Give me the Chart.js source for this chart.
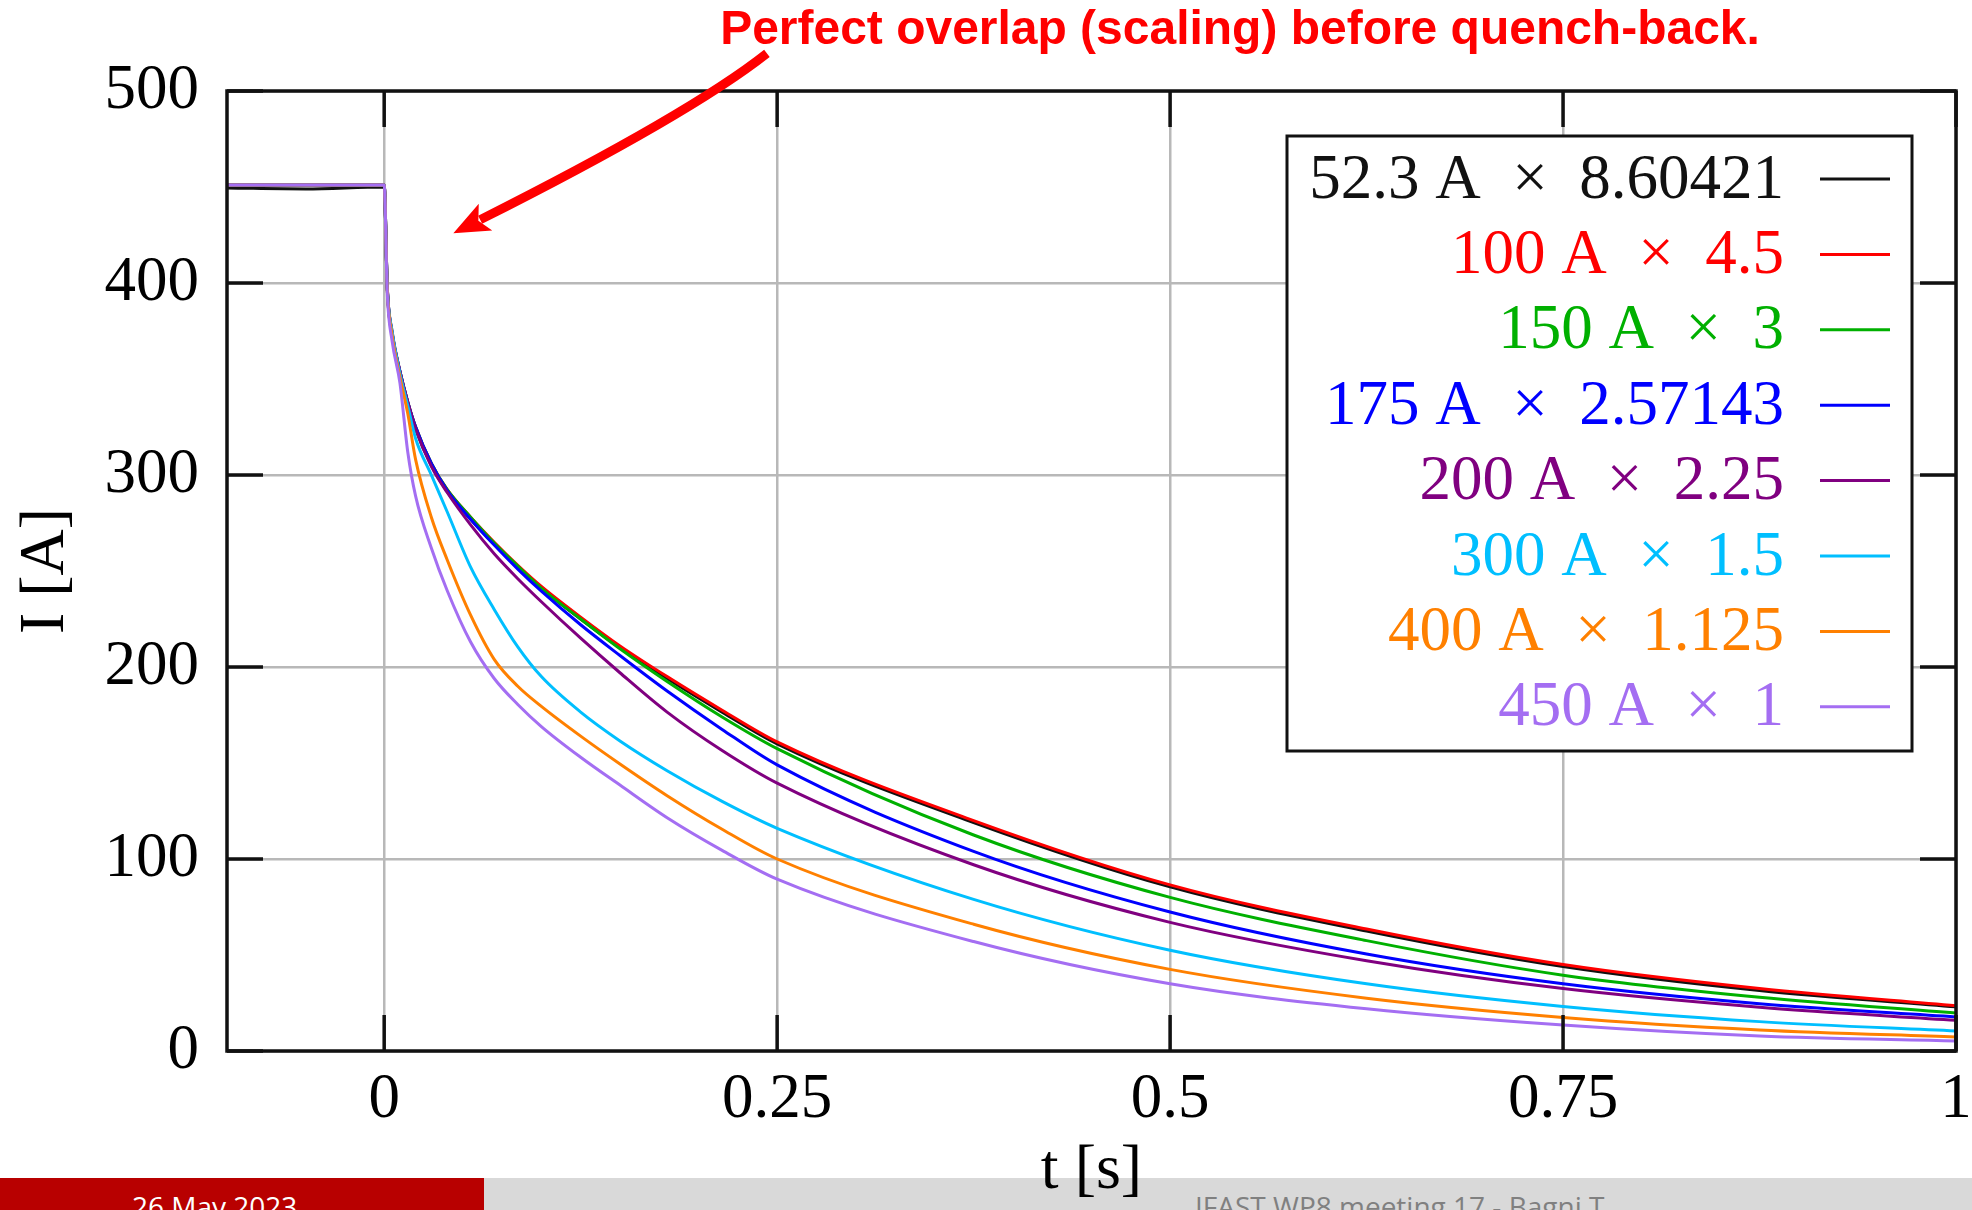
<!DOCTYPE html>
<html>
<head>
<meta charset="utf-8">
<script src="https://cdn.jsdelivr.net/npm/chart.js@4.4.1/dist/chart.umd.min.js"></script>
<style>
  html, body { margin: 0; padding: 0; background: #fff; }
  #stage { position: relative; width: 1972px; height: 1210px; overflow: hidden; background: #fff; }
  #chart { position: absolute; left: 0; top: 0; z-index: 2; }
  .bar { position: absolute; top: 1178px; height: 32px; overflow: hidden; z-index: 1; font-family: "Open Sans", sans-serif; font-size: 28px; line-height: 28px; white-space: nowrap; }
  .bar-date { left: 0; width: 484px; background: #b80000; color: #fff; }
  .bar-date span { display: inline-block; padding-top: 14px; margin-left: 132px; }
  .bar-meeting { left: 484px; width: 1488px; background: #d9d9d9; color: #808080; }
  .bar-meeting span { display: inline-block; padding-top: 14px; margin-left: 711px; }
</style>
</head>
<body>
<div id="stage">
  <div class="bar bar-date"><span>26 May 2023</span></div>
  <div class="bar bar-meeting"><span>IFAST WP8 meeting 17 - Bagni T.</span></div>
  <canvas id="chart" width="1972" height="1210"></canvas>
</div>
<script>
// time axis shared by every trace (s)
const timeS = [-0.1, -0.05, 0, 0.002, 0.005, 0.01, 0.015, 0.02, 0.03, 0.04, 0.055, 0.07, 0.085, 0.1, 0.125, 0.15, 0.18, 0.215, 0.25, 0.375, 0.5, 0.625, 0.75, 0.875, 1];

// scaled current (A)
const current52 = [449.5, 449, 450, 396, 373, 353, 337, 324, 305, 291.5, 277, 264, 252, 241, 225, 210, 194, 176.5, 160, 119, 85.5, 62.5, 44, 31.5, 23];
const current100 = [451, 451, 451, 397, 374, 354, 338, 325, 306, 292.5, 278, 265, 253, 242, 226, 211, 195, 177.5, 161, 120, 86.5, 63.5, 45, 32.5, 23.5];
const current150 = [451, 451, 451, 397, 374, 354, 338, 325, 306, 292.5, 278, 264.5, 252.5, 241, 225, 209.5, 192.5, 174, 157.5, 112.5, 80, 57.5, 39.5, 28, 19.8];
const current175 = [451, 451, 451, 397, 374, 354, 338, 325, 306, 292, 277, 263.5, 251, 239.5, 222, 206, 187.5, 167.5, 149, 104, 72.4, 50.5, 35, 24.6, 17.7];
const current200 = [451, 451, 451, 397, 375, 354, 338, 324, 304.5, 291, 274, 259, 246, 234, 215, 197, 176.5, 156.5, 139.5, 97, 67, 47, 32.5, 22.8, 16];
const current300 = [451, 451, 451, 397, 375, 353, 336, 319, 300, 281, 252, 230, 210.5, 195, 176.5, 161.5, 146, 130, 116, 79, 52.5, 35, 23.2, 15.3, 10.4];
const current400 = [451, 451, 451, 396, 373, 351, 332, 308, 278, 256, 227, 204, 190, 179.5, 164, 149.5, 133, 115.5, 100, 66, 42.5, 27.5, 17.5, 11, 7.3];
const current450 = [451, 451, 451, 394, 370, 348, 312, 289, 262, 240, 213, 194, 180.5, 169, 153, 138.5, 121.5, 104.5, 89.5, 57, 35, 22, 13.5, 7.8, 5.2];

const seriesLabels = [
  "52.3 A\u2002\u00d7\u20028.60421",
  "100 A\u2002\u00d7\u20024.5",
  "150 A\u2002\u00d7\u20023",
  "175 A\u2002\u00d7\u20022.57143",
  "200 A\u2002\u00d7\u20022.25",
  "300 A\u2002\u00d7\u20021.5",
  "400 A\u2002\u00d7\u20021.125",
  "450 A\u2002\u00d7\u20021"
];
const seriesValues = [current52, current100, current150, current175, current200, current300, current400, current450];
const seriesColors = ["#111111", "#ff0000", "#00b000", "#0000ff", "#800080", "#00bfff", "#ff8000", "#a46ef2"];

const xTickValues = [0, 0.25, 0.5, 0.75, 1];
const xTickLabels = ["0", "0.25", "0.5", "0.75", "1"];
const yTickLabels = ["0", "100", "200", "300", "400", "500"];

const noteText = "Perfect overlap (scaling) before quench-back.";
const serif = '"Liberation Serif", "Times New Roman", serif';

const framePlugin = {
  id: "gnuFrame",
  afterDatasetsDraw(chart) {
    const { ctx, chartArea: area, scales } = chart;
    ctx.save();
    ctx.strokeStyle = "#111";
    ctx.lineWidth = 3.5;
    ctx.beginPath();
    scales.x.ticks.forEach((tick) => {
      const px = scales.x.getPixelForValue(tick.value);
      ctx.moveTo(px, area.bottom);
      ctx.lineTo(px, area.bottom - 36);
      ctx.moveTo(px, area.top);
      ctx.lineTo(px, area.top + 36);
    });
    scales.y.ticks.forEach((tick) => {
      const py = scales.y.getPixelForValue(tick.value);
      ctx.moveTo(area.left, py);
      ctx.lineTo(area.left + 36, py);
      ctx.moveTo(area.right, py);
      ctx.lineTo(area.right - 36, py);
    });
    ctx.stroke();
    ctx.strokeRect(area.left, area.top, area.right - area.left, area.bottom - area.top);
    ctx.restore();
  }
};

const legendPlugin = {
  id: "boxLegend",
  afterDatasetsDraw(chart) {
    const { ctx, chartArea: area } = chart;
    const right = area.right - 44;
    const left = right - 625;
    const top = area.top + 45;
    const bottom = top + 615;
    ctx.save();
    ctx.fillStyle = "#fff";
    ctx.fillRect(left, top, right - left, bottom - top);
    ctx.strokeStyle = "#111";
    ctx.lineWidth = 3;
    ctx.strokeRect(left, top, right - left, bottom - top);
    ctx.font = `63px ${serif}`;
    ctx.textAlign = "right";
    ctx.textBaseline = "middle";
    chart.data.datasets.forEach((dataset, index) => {
      const rowY = top + 43 + index * 75.4;
      ctx.fillStyle = dataset.borderColor;
      ctx.fillText(dataset.label, right - 128, rowY + 2);
      ctx.strokeStyle = dataset.borderColor;
      ctx.lineWidth = 3;
      ctx.beginPath();
      ctx.moveTo(right - 92, rowY);
      ctx.lineTo(right - 22, rowY);
      ctx.stroke();
    });
    ctx.restore();
  }
};

const notePlugin = {
  id: "quenchNote",
  afterDraw(chart) {
    const { ctx, scales } = chart;
    ctx.save();
    ctx.font = 'bold 43px "Liberation Sans", Arial, sans-serif';
    const size = 43 * 1040 / ctx.measureText(noteText).width;
    ctx.font = `bold ${size}px "Liberation Sans", Arial, sans-serif`;
    ctx.fillStyle = "#ff0000";
    ctx.textAlign = "center";
    ctx.textBaseline = "alphabetic";
    ctx.fillText(noteText, 1240, 44);

    // curved arrow, anchored in data space
    const start = { x: scales.x.getPixelForValue(0.2435), y: scales.y.getPixelForValue(519.6) };
    const ctrl = { x: scales.x.getPixelForValue(0.1945), y: scales.y.getPixelForValue(487.9) };
    const tip = { x: scales.x.getPixelForValue(0.044), y: scales.y.getPixelForValue(425.9) };
    const dx = tip.x - ctrl.x;
    const dy = tip.y - ctrl.y;
    const len = Math.hypot(dx, dy);
    const ux = dx / len;
    const uy = dy / len;
    const headLen = 36;
    const headHalf = 15;
    const baseX = tip.x - ux * headLen;
    const baseY = tip.y - uy * headLen;
    ctx.strokeStyle = "#ff0000";
    ctx.lineWidth = 9;
    ctx.lineCap = "butt";
    ctx.beginPath();
    ctx.moveTo(start.x, start.y);
    ctx.quadraticCurveTo(ctrl.x, ctrl.y, baseX + ux * 6, baseY + uy * 6);
    ctx.stroke();
    ctx.fillStyle = "#ff0000";
    ctx.beginPath();
    ctx.moveTo(tip.x, tip.y);
    ctx.lineTo(baseX - uy * headHalf, baseY + ux * headHalf);
    ctx.lineTo(baseX + ux * 8, baseY + uy * 8);
    ctx.lineTo(baseX + uy * headHalf, baseY - ux * headHalf);
    ctx.closePath();
    ctx.fill();
    ctx.restore();
  }
};

const datasets = seriesValues.map((values, index) => ({
  label: seriesLabels[index],
  data: timeS.map((t, k) => ({ x: t, y: values[k] })),
  borderColor: seriesColors[index],
  backgroundColor: seriesColors[index],
  borderWidth: 3,
  pointRadius: 0,
  cubicInterpolationMode: "monotone",
  order: seriesValues.length - index
}));

new Chart(document.getElementById("chart"), {
  type: "line",
  data: { datasets },
  options: {
    responsive: false,
    animation: false,
    devicePixelRatio: 1,
    layout: { padding: { top: 91, right: 16, left: 0, bottom: 0 } },
    plugins: { legend: { display: false }, tooltip: { enabled: false } },
    scales: {
      x: {
        type: "linear",
        min: -0.1,
        max: 1,
        afterBuildTicks: (scale) => {
          scale.ticks = xTickValues.map((value) => ({ value }));
        },
        afterFit: (scale) => {
          scale.height = 159;
          scale.paddingLeft = 0;
          scale.paddingRight = 0;
        },
        ticks: {
          autoSkip: false,
          maxRotation: 0,
          padding: 12,
          color: "#000",
          font: { family: serif, size: 63 },
          callback: (value, index) => xTickLabels[index]
        },
        grid: { color: "#b8b8b8", lineWidth: 2.5, drawTicks: false },
        border: { display: false },
        title: { display: true, text: "t [s]", color: "#000", font: { family: serif, size: 64 }, padding: 0 }
      },
      y: {
        min: 0,
        max: 500,
        afterFit: (scale) => {
          scale.width = 227;
          scale.paddingTop = 0;
          scale.paddingBottom = 0;
        },
        ticks: {
          stepSize: 100,
          padding: 28,
          color: "#000",
          font: { family: serif, size: 63 },
          callback: (value, index) => yTickLabels[index]
        },
        grid: { color: "#b8b8b8", lineWidth: 2.5, drawTicks: false },
        border: { display: false },
        title: { display: true, text: "I [A]", color: "#000", font: { family: serif, size: 64 }, padding: { top: 8, bottom: 0 } }
      }
    }
  },
  plugins: [legendPlugin, framePlugin, notePlugin]
});
</script>
</body>
</html>
